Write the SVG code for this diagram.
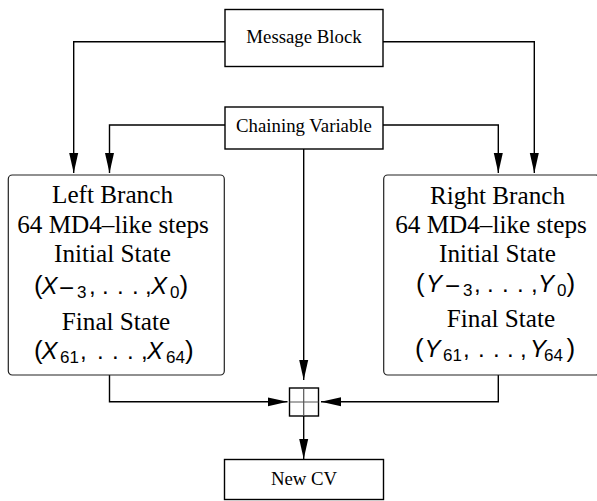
<svg xmlns="http://www.w3.org/2000/svg" width="597" height="501" viewBox="0 0 597 501">
  <defs>
    <marker id="arrow" markerWidth="20" markerHeight="10" refX="20" refY="5" orient="auto" markerUnits="userSpaceOnUse">
      <path d="M0,0.5 L20,5 L0,9.5 Z" fill="#000"/>
    </marker>
    <style>
      .box { fill: #fff; stroke: #000; stroke-width: 1.4; }
      .branch { fill: #fff; stroke: #222; stroke-width: 1.2; }
      .wire { fill: none; stroke: #000; stroke-width: 1.4; marker-end: url(#arrow); }
      .lbl { font-family: "Liberation Serif", "Times New Roman", serif; font-size: 18.8px; fill: #000; text-anchor: middle; }
      .big { font-family: "Liberation Serif", "Times New Roman", serif; font-size: 25.2px; fill: #000; text-anchor: middle; }
      .m { font-family: "Liberation Sans", Arial, sans-serif; font-size: 24px; fill: #000; }
      .mi { font-style: italic; }
      .par { font-size: 26px; }
      .sub { font-size: 17px; }
      .neg { font-size: 26px; }
    </style>
  </defs>

  <!-- connectors -->
  <g id="connectors">
    <path class="wire" d="M225,41.7 H73.7 V173"/>
    <path class="wire" d="M383,41.7 H534.3 V173"/>
    <path class="wire" d="M225,125 H109.5 V173"/>
    <path class="wire" d="M383,125 H498.3 V173"/>
    <path class="wire" d="M303.7,149 V380"/>
    <path class="wire" d="M109.5,375 V401.8 H287.5"/>
    <path class="wire" d="M498.3,375 V401.8 H321"/>
    <path class="wire" d="M303.7,416 V459"/>
  </g>

  <g id="message-block">
    <rect class="box" x="225" y="9.5" width="158" height="57"/>
    <text class="lbl" x="304" y="43">Message Block</text>
  </g>

  <g id="chaining-variable">
    <rect class="box" x="225" y="107" width="158" height="42"/>
    <text class="lbl" x="304" y="132">Chaining Variable</text>
  </g>

  <g id="left-branch">
    <rect class="branch" x="8.3" y="175" width="216" height="200" rx="4"/>
    <text class="big" x="112.5" y="203">Left Branch</text>
    <text class="big" x="113" y="233">64 MD4–like steps</text>
    <text class="big" x="112.5" y="262">Initial State</text>
    <text class="m">
      <tspan class="par" x="34" y="294">(</tspan><tspan class="mi" x="41.5" y="294">X</tspan><tspan class="neg" x="59" y="297">−</tspan><tspan class="sub" x="77" y="298">3</tspan><tspan x="89" y="294">,</tspan><tspan x="102" y="294">.</tspan><tspan x="117" y="294">.</tspan><tspan x="132" y="294">.</tspan><tspan x="145" y="294">,</tspan><tspan class="mi" x="151" y="294">X</tspan><tspan class="sub" x="170" y="298">0</tspan><tspan class="par" x="179.5" y="294">)</tspan>
    </text>
    <text class="big" x="116" y="330">Final State</text>
    <text class="m">
      <tspan class="par" x="34" y="359">(</tspan><tspan class="mi" x="41.5" y="359">X</tspan><tspan class="sub" x="60" y="363">61</tspan><tspan x="80" y="359">,</tspan><tspan x="97" y="359">.</tspan><tspan x="112" y="359">.</tspan><tspan x="127" y="359">.</tspan><tspan x="141" y="359">,</tspan><tspan class="mi" x="147" y="359">X</tspan><tspan class="sub" x="166" y="363">64</tspan><tspan class="par" x="185" y="359">)</tspan>
    </text>
  </g>

  <g id="right-branch">
    <rect class="branch" x="383.7" y="175" width="216" height="200" rx="4"/>
    <text class="big" x="497.5" y="204">Right Branch</text>
    <text class="big" x="491" y="233">64 MD4–like steps</text>
    <text class="big" x="497.5" y="262">Initial State</text>
    <text class="m">
      <tspan class="par" x="416" y="292">(</tspan><tspan class="mi" x="426" y="292">Y</tspan><tspan class="neg" x="445" y="295">−</tspan><tspan class="sub" x="463" y="296">3</tspan><tspan x="474" y="292">,</tspan><tspan x="487" y="292">.</tspan><tspan x="502" y="292">.</tspan><tspan x="517" y="292">.</tspan><tspan x="531" y="292">,</tspan><tspan class="mi" x="538" y="292">Y</tspan><tspan class="sub" x="557" y="296">0</tspan><tspan class="par" x="566.5" y="292">)</tspan>
    </text>
    <text class="big" x="501" y="327">Final State</text>
    <text class="m">
      <tspan class="par" x="415" y="357">(</tspan><tspan class="mi" x="424.5" y="357">Y</tspan><tspan class="sub" x="443" y="361">61</tspan><tspan x="463" y="357">,</tspan><tspan x="478" y="357">.</tspan><tspan x="493" y="357">.</tspan><tspan x="507" y="357">.</tspan><tspan x="520" y="357">,</tspan><tspan class="mi" x="530" y="357">Y</tspan><tspan class="sub" x="544" y="361">64</tspan><tspan class="par" x="566.5" y="357">)</tspan>
    </text>
  </g>

  <g id="adder">
    <rect class="box" x="289.5" y="388" width="29" height="28" stroke-width="1.2"/>
    <path d="M289.5,402 H318.5 M303.7,388 V416" stroke="#555" stroke-width="1.2" fill="none"/>
  </g>

  <g id="new-cv">
    <rect class="box" x="224.5" y="459.5" width="159" height="40"/>
    <text class="lbl" x="304" y="485">New CV</text>
  </g>
</svg>
